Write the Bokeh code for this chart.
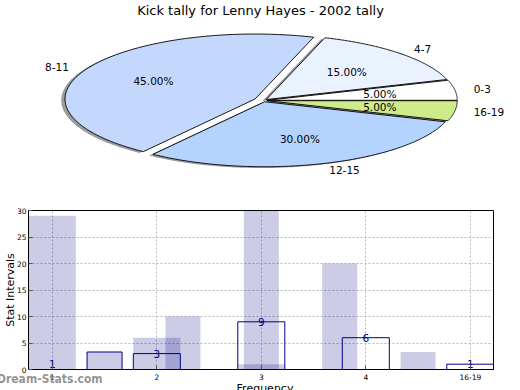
import numpy as np
from bokeh.plotting import figure
from bokeh.models import Range1d, FixedTicker, Label, Div
from bokeh.core.properties import value
from bokeh.embed import file_html
from bokeh.resources import INLINE

# ---------------- data ----------------
title_text = "Kick tally for Lenny Hayes - 2002 tally"
pie_labels = ["0-3", "4-7", "8-11", "12-15", "16-19"]
pie_pct = [5, 15, 45, 30, 5]
pie_colors = ["#ffffff", "#eaf1ff", "#c4d8fe", "#b4d4ff", "#cdeb8b"]
pie_explode = [0.02, 0.02, 0.05, 0.02, 0.02]

x_title = "Frequency"
y_title = "Stat Intervals"
watermark = "Dream-Stats.com"
tick_labels = ["1", "2", "3", "4", "16-19"]
tick_pos = [1, 2, 3, 4, 5]
counts = [1, 3, 9, 6, 1]
outline_x = [2, 3, 4, 5]
outline_h = [3, 9, 6, 1]
wide_x = [1, 2, 3]
wide_h = [29, 6, 1]
narrow_x = [1.5, 2.25, 3.0, 3.75, 4.5]
narrow_h = [3.3, 10, 30, 20, 3.3]

FONT = value("DejaVu Sans")

# ---------------- pie ----------------
pie = figure(width=520, height=200, output_backend="svg", toolbar_location=None,
             x_range=Range1d(-263 / 190, 257 / 190), y_range=Range1d(-100 / 65, 100 / 65),
             min_border=0, x_axis_type=None, y_axis_type=None)
pie.grid.visible = False
pie.outline_line_color = None
pie.background_fill_color = "white"

xs, ys, sx, sy = [], [], [], []
lab_x, lab_y, lab_align, pct_x, pct_y, pct_txt = [], [], [], [], [], []
start = 0.0
for pct, e in zip(pie_pct, pie_explode):
    t0 = 2 * np.pi * start / 100.0
    t1 = 2 * np.pi * (start + pct) / 100.0
    mid = 0.5 * (t0 + t1)
    ox, oy = e * np.cos(mid), e * np.sin(mid)
    t = np.linspace(t0, t1, 120)
    px = np.concatenate([[ox], ox + np.cos(t)])
    py = np.concatenate([[oy], oy + np.sin(t)])
    xs.append(px.tolist()); ys.append(py.tolist())
    sx.append((px - 0.02).tolist()); sy.append((py - 0.02).tolist())
    lx = ox + 1.1 * np.cos(mid)
    lab_x.append(lx); lab_y.append(oy + 1.1 * np.sin(mid))
    lab_align.append("left" if lx > 0 else "right")
    pct_x.append(ox + 0.6 * np.cos(mid)); pct_y.append(oy + 0.6 * np.sin(mid))
    pct_txt.append("%.2f%%" % pct)
    start += pct

pie.patches(sx, sy, fill_color="#3a3a3a", fill_alpha=0.5, line_color=None)
pie.patches(xs, ys, fill_color=pie_colors, line_color="black", line_width=0.9)
pie.text(x=lab_x, y=lab_y, text=pie_labels, text_align=lab_align, text_baseline="middle",
         text_font=FONT, text_font_size="10.5px", text_color="black")
pie.text(x=pct_x, y=pct_y, text=pct_txt, text_align="center", text_baseline="middle",
         text_font=FONT, text_font_size="10.5px", text_color="black")
pie.add_layout(Label(x=-3 / 190, y=90 / 65, text=title_text, text_align="center",
                     text_baseline="middle", text_font="DejaVu Sans",
                     text_font_size="13px", text_color="black"))

# ---------------- bars ----------------
bar = figure(width=520, height=190, output_backend="svg", toolbar_location=None,
             x_range=Range1d(0.772, 5.222), y_range=Range1d(0, 30),
             min_border_left=25, min_border_right=27, min_border_top=10, min_border_bottom=21,
             y_axis_label=y_title)
bar.background_fill_color = "white"
bar.outline_line_color = "black"
bar.outline_line_width = 1

navy = "#000080"
bar.vbar(x=wide_x, top=wide_h, width=0.45, fill_color=navy, fill_alpha=0.2, line_color=None)
bar.vbar(x=narrow_x, top=narrow_h, width=0.335, fill_color=navy, fill_alpha=0.2,
         line_color=[navy, None, None, None, None], line_width=1)
bar.vbar(x=outline_x, top=outline_h, width=0.45, fill_color=None, line_color=navy, line_width=1)
bar.text(x=tick_pos, y=counts, text=[str(c) for c in counts], text_align="center",
         text_baseline="middle", text_font=FONT, text_font_size="10.5px", text_color=navy)

bar.xaxis.ticker = FixedTicker(ticks=tick_pos)
bar.xaxis.major_label_overrides = {p: l for p, l in zip(tick_pos, tick_labels)}
bar.yaxis.ticker = FixedTicker(ticks=[0, 5, 10, 15, 20, 25, 30])
for ax in (bar.xaxis, bar.yaxis):
    ax.major_tick_in = 4
    ax.major_tick_out = 0
    ax.minor_tick_in = 0
    ax.minor_tick_out = 0
    ax.major_label_text_font = "DejaVu Sans"
    ax.major_label_text_font_size = "7.5px"
    ax.major_label_text_color = "black"
    ax.axis_line_color = "black"
    ax.major_tick_line_color = "#555555"
    ax.axis_label_text_font = "DejaVu Sans"
    ax.axis_label_text_font_size = "11px"
    ax.axis_label_text_font_style = "normal"
    ax.axis_label_text_color = "black"
bar.xaxis.major_label_standoff = 4
bar.yaxis.major_label_standoff = 2
bar.yaxis.axis_label_standoff = -3

bar.xgrid.ticker = FixedTicker(ticks=tick_pos)
bar.ygrid.ticker = FixedTicker(ticks=[5, 10, 15, 20, 25])
bar.grid.grid_line_color = "#b8b8b8"
bar.grid.grid_line_dash = "2 2"
bar.grid.grid_line_width = 1

# watermark and the (cut-off) x title, overlaid on the bottom strip
wm = Div(text=watermark, width=130, height=18,
         styles={"margin-top": "-20px", "margin-left": "-3px", "position": "relative",
                 "z-index": "5", "font-family": "'DejaVu Sans Condensed', 'DejaVu Sans'",
                 "font-weight": "bold", "font-size": "12px",
                 "color": "rgba(128,128,128,0.85)", "line-height": "18px",
                 "white-space": "nowrap"})
xt = Div(text=x_title, width=520, height=13,
         styles={"margin-top": "-11px", "position": "relative", "z-index": "5",
                 "overflow": "hidden", "font-family": "'DejaVu Sans'", "font-size": "11px",
                 "color": "black", "line-height": "13px", "text-align": "center",
                 "white-space": "nowrap"})

open("out.html", "w").write(file_html([pie, bar, wm, xt], INLINE))
